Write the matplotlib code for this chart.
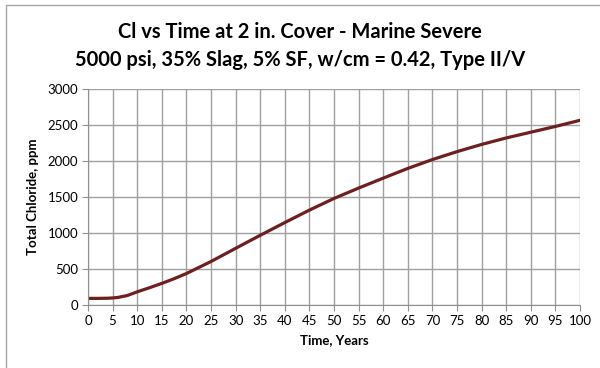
import numpy as np
import matplotlib.pyplot as plt
from matplotlib.patches import Rectangle

# data
years = [0, 2, 4, 5, 6, 8, 10, 12.5, 15, 17.5, 20, 25, 30, 35, 40, 45, 50, 55, 60, 65, 70, 75, 80, 85, 90, 95, 100]
chloride = [92, 92, 94, 98, 104, 132, 183, 240, 300, 365, 437, 604, 787, 968, 1145, 1318, 1480, 1624, 1762, 1897, 2020, 2130, 2230, 2320, 2400, 2480, 2565]

title = "Cl vs Time at 2 in. Cover - Marine Severe\n5000 psi, 35% Slag, 5% SF, w/cm = 0.42, Type II/V"

plt.rcParams['font.family'] = ['Lato', 'DejaVu Sans']

fig = plt.figure(figsize=(6, 3.68), dpi=100)
ax = fig.add_axes([88/600, 1-305/368, 492/600, 216/368])

# outer chart border (cropped at right/bottom)
fig.patches.append(Rectangle((6/600, -0.1), 1.2, 1 - 5/368 + 0.1, transform=fig.transFigure,
                             fill=False, edgecolor='#a6a6a6', linewidth=1))

ax.plot(years, chloride, color='#6e1f1f', linewidth=2.3, solid_capstyle='round',
        solid_joinstyle='round')

ax.set_xlim(0, 100)
ax.set_ylim(0, 3000)
ax.set_xticks(np.arange(0, 101, 5))
ax.set_yticks(np.arange(0, 3001, 500))
ax.grid(True, color='#a0a0a0', linewidth=1)
ax.set_axisbelow(True)
for s in ['top', 'right']:
    ax.spines[s].set_visible(False)
for s in ['left', 'bottom']:
    ax.spines[s].set_color('#909090')
ax.tick_params(axis='both', length=4, color='#909090', labelsize=9.5, pad=3)

ax.set_xlabel('Time, Years', fontsize=9.5, fontweight='bold', labelpad=5)
ax.set_ylabel('Total Chloride, ppm', fontsize=9.5, fontweight='bold', labelpad=6)

fig.text(0.5, 1-46/368, title, ha='center', va='center', fontsize=14.5, fontweight='bold',
         linespacing=1.45)

fig.savefig('out.png', dpi=100)
